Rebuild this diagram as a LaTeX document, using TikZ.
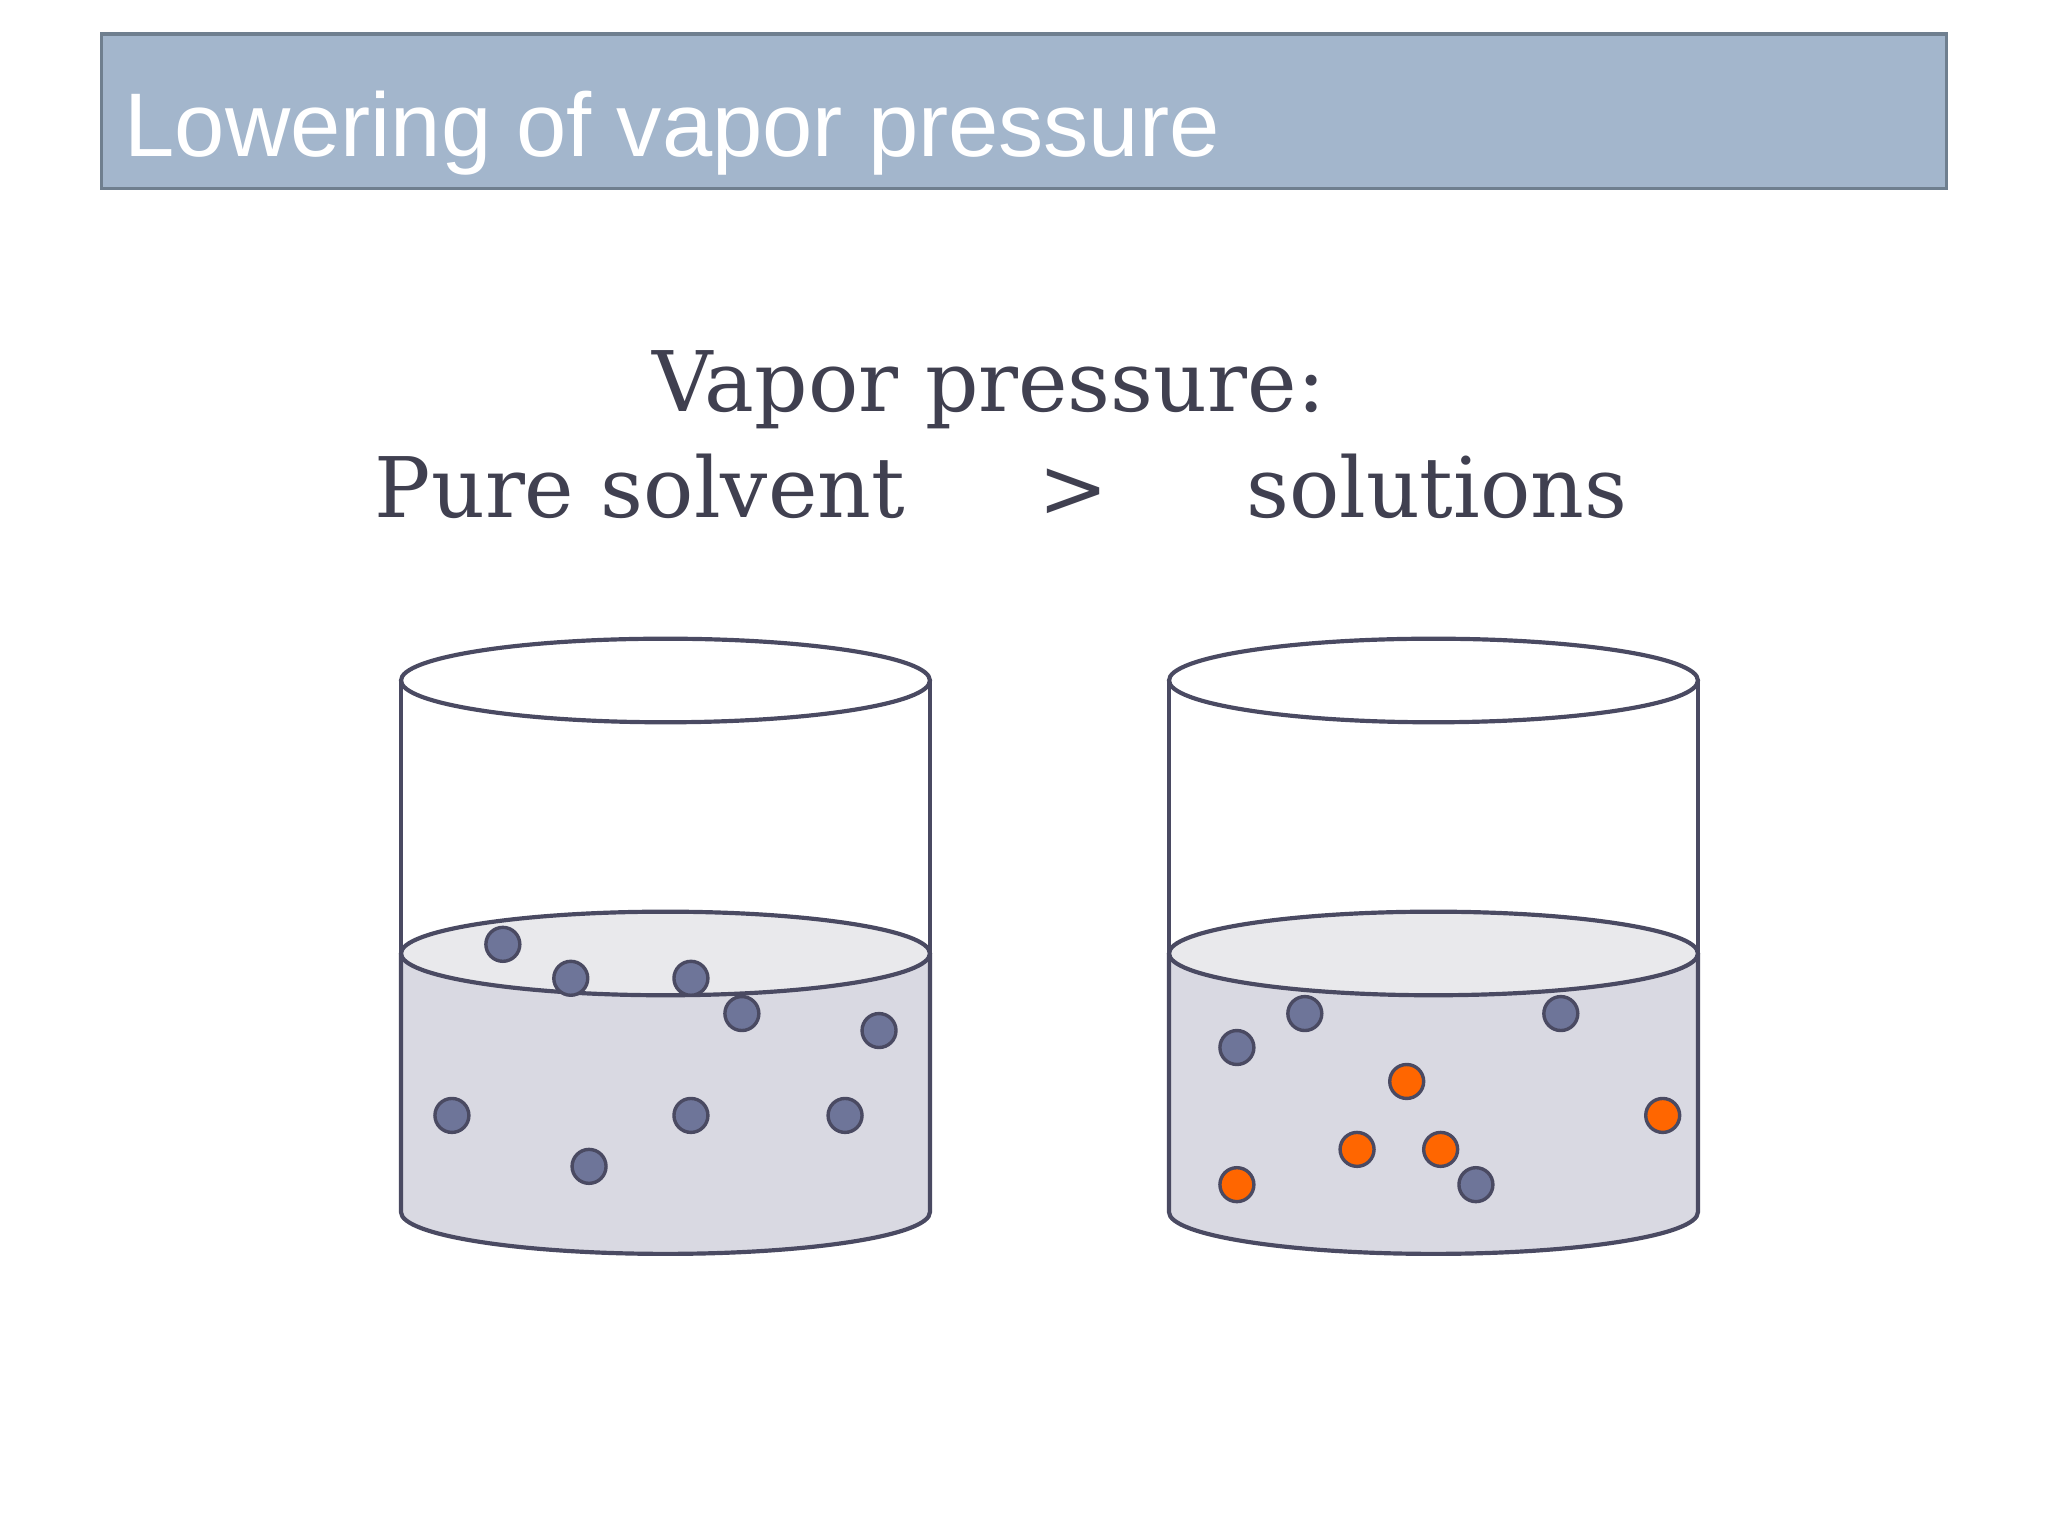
\documentclass[tikz,border=0pt]{standalone}
\usepackage{fontspec}
\newfontfamily\titlefont{Liberation Sans}
\newfontfamily\serifw{DejaVu Serif}
\definecolor{barfill}{HTML}{A3B6CC}
\definecolor{barline}{HTML}{6F7F8F}
\definecolor{ink}{HTML}{404050}
\definecolor{edge}{HTML}{4A4A62}
\definecolor{liq}{HTML}{D9D9E2}
\definecolor{liqtop}{HTML}{E9E9EC}
\definecolor{blu}{HTML}{6E7599}
\definecolor{org}{HTML}{FF6600}
\tikzset{
  bl/.style={circle,draw=edge,line width=1.3pt,fill=blu,minimum size=13pt,inner sep=0pt},
  og/.style={circle,draw=edge,line width=1.3pt,fill=org,minimum size=13pt,inner sep=0pt},
  bk/.style={draw=edge,line width=1.6pt},
  big/.style={text=ink,font=\serifw\fontsize{32pt}{36pt}\selectfont,anchor=base}
}
\begin{document}
\begin{tikzpicture}[x=0.5pt,y=-0.5pt]
\useasboundingbox (0,0) rectangle (1568,1176);
\fill[white] (0,0) rectangle (1568,1176);
\draw[barline,fill=barfill,line width=1.2pt] (78,26) rectangle (1490,144);
\node[anchor=base west,inner sep=0,text=white,font=\titlefont\fontsize{34.6pt}{38pt}\selectfont] (title) at (95,120) {Lowering of vapor pressure};
\node[big] (vp) at (757,315) {Vapor pressure:};
\node[big] (ps) at (490,396) {Pure solvent};
\node[big] (gt) at (822,396) {>};
\node[big] (sol) at (1100,396) {solutions};
\foreach \cx in {509.5,1097.5}{
  \draw[bk,fill=white] (\cx,521) ellipse (202.5 and 32);
  \draw[bk] (\cx-202.5,521) -- (\cx-202.5,730) (\cx+202.5,521) -- (\cx+202.5,730);
  \draw[bk,fill=liq] (\cx-202.5,730) -- (\cx-202.5,928) arc[start angle=180,end angle=360,x radius=202.5,y radius=-32] -- (\cx+202.5,730);
  \draw[bk,fill=liqtop] (\cx,730) ellipse (202.5 and 32);
}
\foreach \x/\y [count=\i] in {385/723,437/749,529/749,568/776,673/789,346/854,529/854,647/854,451/893}
  \node[bl] (L\i) at (\x,\y) {};
\foreach \x/\y [count=\i] in {999/776,1195/776,947/802,1130/907}
  \node[bl] (B\i) at (\x,\y) {};
\foreach \x/\y [count=\i] in {1077/828,1273/854,1039/880,1103/880,947/907}
  \node[og] (O\i) at (\x,\y) {};
\end{tikzpicture}
\end{document}
